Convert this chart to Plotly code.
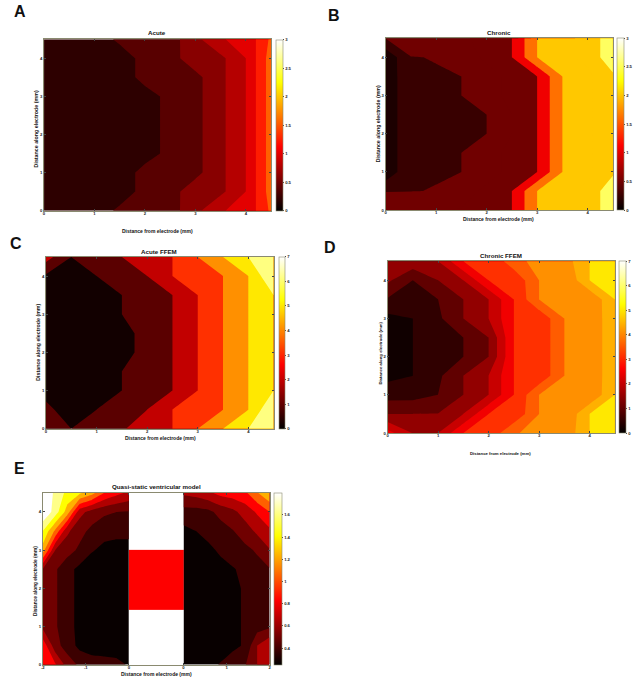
import plotly.graph_objects as go

W, H = 644, 683
FONT = "Liberation Sans"
GRID = [0, 0.5, 1, 1.5, 2, 2.5, 3, 3.5, 4, 4.5]

# rows run from y = 0 up to y = 4.5
acute_z = [
    [.28, .29, .32, .43, .48, .51, .74, .99, 1.04, 1.44],
    [.28, .29, .30, .32, .45, .52, .72, .75, 1.0, 1.5],
    [.28, .29, .30, .32, .45, .50, .54, .75, 1.0, 1.5],
    [.28, .29, .30, .31, .34, .44, .54, .75, 1.0, 1.5],
    [.28, .29, .30, .31, .34, .44, .54, .75, 1.0, 1.5],
    [.28, .29, .30, .31, .34, .44, .54, .75, 1.0, 1.5],
    [.28, .29, .30, .31, .34, .44, .54, .75, 1.0, 1.5],
    [.28, .29, .30, .32, .45, .50, .54, .75, 1.0, 1.5],
    [.28, .29, .30, .32, .45, .52, .72, .75, 1.0, 1.5],
    [.28, .29, .32, .43, .48, .51, .74, .99, 1.04, 1.44],
]
chronic_z = [
    [.7, .72, .74, .76, .85, 1.0, 2.0, 2.2, 2.3, 2.7],
    [.49, .495, .505, .65, .8, 1.0, 2.0, 2.2, 2.3, 2.7],
    [.05, .48, .49, .5, .65, .82, 1.0, 2.0, 2.2, 2.45],
    [.05, .48, .49, .5, .65, .82, 1.0, 2.0, 2.2, 2.45],
    [.05, .48, .485, .49, .5, .75, 1.0, 2.0, 2.2, 2.45],
    [.05, .48, .485, .49, .5, .75, 1.0, 2.0, 2.2, 2.45],
    [.05, .48, .49, .5, .65, .82, 1.0, 2.0, 2.2, 2.45],
    [.05, .48, .49, .5, .65, .82, 1.0, 2.0, 2.2, 2.45],
    [.05, .495, .505, .62, .8, 1.0, 2.0, 2.2, 2.3, 2.7],
    [.505, .6, .65, .7, .85, 1.0, 2.0, 2.2, 2.3, 2.7],
]
acute_ffem_z = [
    [1.8, 1.0, 1.4, 1.9, 2.5, 3, 4, 5, 6, 7],
    [1.3, .4, 1.0, 1.5, 2, 3, 3.5, 4, 5, 7],
    [.6, .3, .5, 1, 1.5, 2, 3, 4, 5, 6],
    [.2, .25, .5, 1, 1.5, 2, 3, 4, 5, 5.9],
    [.2, .25, .5, .8, 1.2, 2, 3, 4, 5, 5.9],
    [.2, .25, .5, .8, 1.2, 2, 3, 4, 5, 5.9],
    [.2, .25, .5, 1, 1.5, 2, 3, 4, 5, 5.9],
    [.5, .3, .5, 1, 1.5, 2, 3, 4, 5, 6],
    [.85, .3, 1, 1.5, 2, 3, 3.5, 4, 5, 7],
    [2.4, 1.0, 1.5, 2, 2.5, 3, 4, 5, 6, 7],
]
chronic_ffem_z = [
    [2.7, 1.98, 2, 3, 3.1, 3.97, 4.1, 4.12, 5, 5.8],
    [1.49, 1.5, 1.51, 2, 3, 3.1, 4.001, 4.01, 5, 5.7],
    [.8, .8, 1, 1.5, 2, 3, 4.001, 4.02, 4.03, 5],
    [.35, .5, .9, 1.5, 2, 3, 3.1, 4, 4.1, 4.9],
    [.3, .5, .75, 1, 1.5, 3, 3.1, 4, 4.1, 4.9],
    [.3, .5, .75, 1, 1.5, 3, 3.1, 4, 4.1, 4.9],
    [.35, .5, .9, 1.5, 2, 3, 3.1, 4, 4.1, 4.9],
    [.95, .7, 1, 1.5, 2, 3, 4.001, 4.02, 4.03, 5],
    [1.6, 1, 1.5, 2, 3, 3.1, 4.001, 4.01, 5, 5.7],
    [1.8, 1.85, 2, 3, 3.05, 3.8, 4.2, 4.25, 5, 5.7],
]
quasi_left_x = [-2, -1.71, -1.43, -1.14, -.86, -.57, -.29, 0]
quasi_left_z = [
    [.985, .87, .64, .52, .47, .47, .45, .385],
    [.96, .61, .48, .36, .33, .31, .31, .31],
    [.66, .57, .45, .36, .33, .31, .31, .31],
    [.64, .57, .45, .36, .33, .31, .31, .31],
    [.66, .57, .45, .36, .33, .31, .31, .31],
    [.69, .57, .45, .36, .33, .31, .31, .31],
    [1.23, .7, .61, .52, .41, .37, .36, .36],
    [1.45, 1.12, .73, .6, .51, .44, .43, .43],
    [1.75, 1.53, 1.23, .75, .64, .58, .55, .54],
    [1.78, 1.56, 1.41, 1.33, 1.21, 1.0, .9, .82],
]
quasi_right_x = [1.27, 1.56, 1.84, 2.13, 2.41, 2.7, 2.98, 3.27]
quasi_right_z = [
    [.31, .31, .36, .41, .49, .54, .7, .84],
    [.31, .31, .31, .33, .36, .42, .7, .84],
    [.31, .31, .31, .33, .36, .42, .48, .52],
    [.31, .31, .31, .33, .36, .42, .48, .51],
    [.31, .31, .31, .33, .36, .42, .48, .51],
    [.31, .31, .33, .36, .39, .43, .49, .54],
    [.31, .34, .37, .42, .46, .51, .57, .69],
    [.36, .4, .44, .48, .54, .63, .73, .82],
    [.49, .49, .51, .6, .66, .76, .87, 1.0],
    [.73, .76, .82, .9, .93, .97, 1.14, 1.29],
]
electrode_x = [0, 1.27]
electrode_y = [0, 1.45, 3.0, 4.5]
electrode_z = [[1.8], [.83], [1.8]]

quasi_tick_vals = [-2, -1, 0, 1.27, 2.27, 3.27]
quasi_tick_text = ["-2", "-1", "0", "0", "1", "2"]

HOT = [[0, "#000000"], [.375, "#ff0000"], [.75, "#ffff00"], [1, "#ffffff"]]


def bands(cols):
    n = len(cols) - 1
    return [[i / n, c] for i, c in enumerate(cols)]


A_COL = ["#2d0000", "#580000", "#880000", "#b50000", "#e30000", "#ff1c00", "#ff6000"]
B_COL = ["#1c0000", "#380000", "#700000", "#700000", "#f00000", "#f00000",
         "#ff7000", "#ff7000", "#ffc800", "#ffc800", "#ffff60"]
C_COL = ["#120000", "#5a0000", "#c20000", "#ff3000", "#ff9000", "#ffe800", "#ffff80"]
D_COL = ["#100000", "#300000", "#600000", "#920000", "#c80000", "#f20000",
         "#ff3000", "#ff5c00", "#ff9000", "#ffb000", "#ffe800"]
E_COL = ["#080000", "#3c0000", "#700000", "#b00000", "#ff0000", "#ff6000",
         "#ffb000", "#ffff00", "#ffff88", "#ffffff"]

panels = [
    dict(letter="A", lxy=(18, 12), title="Acute", txy=(156, 33),
         box=(42.3, 270.7, 39.3, 211.3), cb=(276, 6.7), cr=(0, 3, .5),
         xl=(156, 232, 5), yl=(34, 129, 5.3),
         traces=[(GRID, acute_z, A_COL, .4, 1.4, .2)]),
    dict(letter="B", lxy=(334, 16), title="Chronic", txy=(500, 33),
         box=(386, 614.7, 38.3, 210.7), cb=(619.3, 6.7), cr=(0, 3, .5),
         xl=(500, 220, 5), yl=(378, 124, 5.3),
         traces=[(GRID, chronic_z, B_COL, .25, 2.5, .25)]),
    dict(letter="C", lxy=(14, 244), title="Acute FFEM", txy=(158, 252),
         box=(44.3, 273.3, 257.7, 430), cb=(278.3, 6), cr=(0, 7, 1),
         xl=(159, 439, 5), yl=(36, 343, 5.3),
         traces=[(GRID, acute_ffem_z, C_COL, 1, 6, 1)]),
    dict(letter="D", lxy=(330, 248), title="Chronic FFEM", txy=(502, 256),
         box=(388, 616.7, 262, 434.3), cb=(621.3, 7.4), cr=(0, 7, 1),
         xl=(502, 455, 4.3), yl=(381, 354, 4.3),
         traces=[(GRID, chronic_ffem_z, D_COL, .5, 5, .5)]),
    dict(letter="E", lxy=(18, 470), title="Quasi-static ventricular model", txy=(155, 488),
         box=(41, 269.3, 494.3, 666.7), cb=(274, 7.7), cr=(.25, 1.8, .2),
         xl=(155, 676, 5), yl=(33, 583, 4.8),
         traces=[(quasi_left_x, quasi_left_z, E_COL, .4, 1.6, .15),
                 (quasi_right_x, quasi_right_z, E_COL, .4, 1.6, .15)]),
]

fig = go.Figure()
annotations = []


def note(text, xy, size, angle=0):
    annotations.append(dict(
        text=text, x=xy[0] / W, y=1 - xy[1] / H, xref="paper", yref="paper",
        xanchor="center", yanchor="middle", showarrow=False, textangle=angle,
        font=dict(family=FONT, size=size, color="#111111", weight="bold"),
    ))


axis_style = dict(
    showgrid=False, zeroline=False, showline=True, mirror="ticks", linewidth=0.6,
    linecolor="#8a8a70", ticks="inside", ticklen=2, tickwidth=0.5, tickcolor="#444444",
    tickfont=dict(family=FONT, size=4.2, color="#222222", weight="bold"),
)

for i, p in enumerate(panels, start=1):
    x0, x1, y0, y1 = p["box"]
    suffix = "" if i == 1 else str(i)
    xa, ya = "x" + suffix, "y" + suffix
    for xs, z, cols, start, end, size in p["traces"]:
        fig.add_trace(go.Contour(
            x=xs, y=GRID, z=z, xaxis=xa, yaxis=ya, showscale=False,
            colorscale=bands(cols), autocontour=False,
            contours=dict(start=start, end=end, size=size, coloring="fill", showlines=False),
            line=dict(width=0, smoothing=0), hoverinfo="skip",
        ))
    if p["letter"] == "E":
        fig.add_trace(go.Heatmap(
            x=electrode_x, y=electrode_y, z=electrode_z, xaxis=xa, yaxis=ya,
            colorscale=HOT, zmin=.25, zmax=1.8, showscale=False, hoverinfo="skip",
        ))
    lo, hi, step = p["cr"]
    cb_vals = [.4, .6, .8, 1, 1.2, 1.4, 1.6] if p["letter"] == "E" else None
    colorbar = dict(
        x=p["cb"][0] / W, xanchor="left", xpad=0, thickness=p["cb"][1], thicknessmode="pixels",
        y=1 - y1 / H, yanchor="bottom", ypad=0, len=(y1 - y0) / H, lenmode="fraction",
        outlinecolor="#8a8a70", outlinewidth=0.6, ticks="outside", ticklen=1.5, tickwidth=0.5,
        tickcolor="#444444",
        tickfont=dict(family=FONT, size=4.2, color="#222222", weight="bold"),
    )
    if cb_vals:
        colorbar.update(tickmode="array", tickvals=cb_vals)
    else:
        colorbar.update(tick0=lo, dtick=step)
    is_e = p["letter"] == "E"
    fig.add_trace(go.Scatter(
        x=[0], y=[0], xaxis=xa, yaxis=ya, mode="markers", showlegend=False, hoverinfo="skip",
        marker=dict(size=1, opacity=0, color=[lo], cmin=lo, cmax=hi, colorscale=HOT,
                    showscale=True, colorbar=colorbar),
    ))
    xkw = dict(axis_style, domain=[x0 / W, x1 / W], anchor=ya, ticklabelstandoff=-2,
               range=[-2, 3.27] if is_e else [0, 4.5])
    if is_e:
        xkw.update(tickmode="array", tickvals=quasi_tick_vals, ticktext=quasi_tick_text)
    else:
        xkw.update(tickmode="linear", tick0=0, dtick=1)
    ykw = dict(axis_style, domain=[1 - y1 / H, 1 - y0 / H], anchor=xa, range=[0, 4.5],
               tickmode="linear", tick0=0, dtick=1)
    fig.update_layout({"xaxis" + suffix: xkw, "yaxis" + suffix: ykw})
    note(p["letter"], p["lxy"], 16)
    note(p["title"], p["txy"], 6.2)
    note("Distance from electrode (mm)", p["xl"][:2], p["xl"][2])
    note("Distance along electrode (mm)", p["yl"][:2], p["yl"][2], -90)

fig.update_layout(
    width=W, height=H, margin=dict(l=0, r=0, t=0, b=0), paper_bgcolor="white",
    plot_bgcolor="white", showlegend=False, annotations=annotations,
)
fig.write_html("out.html", config={"displayModeBar": False},
               post_script="document.body.style.margin='0';")
